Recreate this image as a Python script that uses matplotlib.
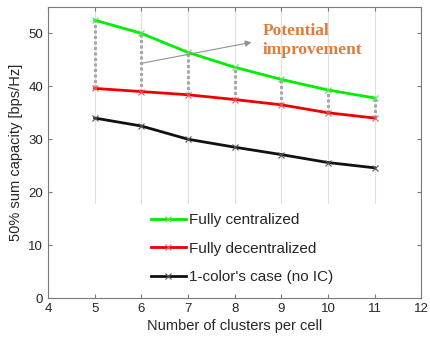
import matplotlib
matplotlib.use("Agg")
import matplotlib.pyplot as plt

clusters = [5, 6, 7, 8, 9, 10, 11]
centralized = [52.5, 50.0, 46.4, 43.6, 41.3, 39.3, 37.8]
decentralized = [39.6, 39.0, 38.4, 37.5, 36.5, 35.0, 34.0]
one_color = [34.0, 32.5, 30.0, 28.5, 27.1, 25.6, 24.6]
labels = ["Fully centralized", "Fully decentralized", "1-color's case (no IC)"]
xticks = [4, 5, 6, 7, 8, 9, 10, 11, 12]
yticks = [0, 10, 20, 30, 40, 50]

plt.rcParams['font.family'] = ['Liberation Sans', 'DejaVu Sans']
fig = plt.figure(figsize=(4.3, 3.43), dpi=100)
ax = fig.add_axes([0.1116, 0.131, 0.868, 0.849])

txt = '#262626'
for x in clusters:
    ax.axvline(x, ymin=0.327, ymax=1, color='#e0e0e0', lw=0.8, zorder=0)

# potential improvement dotted segments
for x, lo, hi in zip(clusters, decentralized, centralized):
    ax.plot([x, x], [lo, hi], color='#a8a8a8', lw=2.2, ls=(0, (1, 0.8)), zorder=1)

ax.plot(clusters, centralized, color='#00ee00', lw=2.0, marker='x', ms=5,
        mew=0.8, mec='#60e060', label=labels[0], zorder=3)
ax.plot(clusters, decentralized, color='#ee0000', lw=2.0, marker='x', ms=5,
        mew=0.8, mec='#e06060', label=labels[1], zorder=3)
ax.plot(clusters, one_color, color='#111111', lw=2.0, marker='x', ms=5,
        mew=0.8, mec='#555555', label=labels[2], zorder=3)

ax.annotate('', xy=(8.42, 48.4), xytext=(5.98, 44.3),
            arrowprops=dict(arrowstyle='-|>', color='#909090', lw=0.8,
                            mutation_scale=9))
ax.text(8.6, 52.0, 'Potential\nimprovement', color='#e07b3a',
        fontfamily='Liberation Serif', fontweight='bold', fontsize=12.5,
        va='top', ha='left', linespacing=1.25)

ax.set_xlim(4, 12)
ax.set_ylim(0, 55)
ax.set_xticks(xticks)
ax.set_yticks(yticks)
ax.tick_params(direction='in', length=3, labelsize=9.5, colors='#7a7a7a',
               labelcolor=txt, top=True, right=True)
for s in ax.spines.values():
    s.set_color('#7a7a7a')
    s.set_linewidth(0.8)

ax.set_xlabel('Number of clusters per cell', fontsize=10.5, color=txt, labelpad=3)
ax.set_ylabel('50% sum capacity [bps/Hz]', fontsize=10.5, color=txt, labelpad=4)

leg = ax.legend(loc='lower left', bbox_to_anchor=(0.238, 0.0), frameon=False,
                fontsize=11, handlelength=2.3, handletextpad=0.2,
                labelspacing=0.95, markerscale=0.9)
for t in leg.get_texts():
    t.set_color(txt)

fig.savefig('out.png', dpi=100)
